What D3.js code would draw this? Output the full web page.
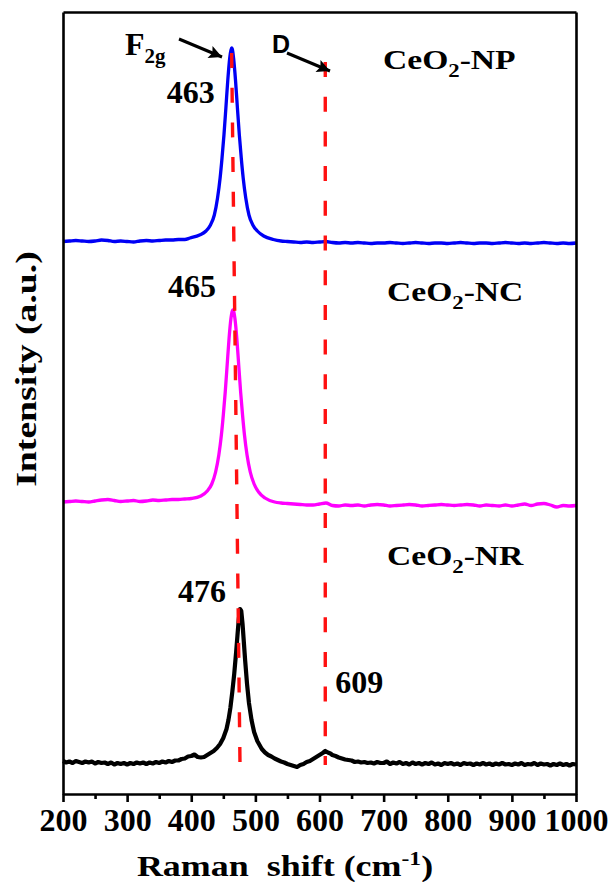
<!DOCTYPE html>
<html>
<head>
<meta charset="utf-8">
<script src="https://cdn.jsdelivr.net/npm/d3@7"></script>
<style>
  html, body { margin: 0; padding: 0; background: #fff; }
  svg { display: block; }
  text { font-family: "Liberation Serif", "Times New Roman", serif; font-weight: bold; fill: #000; }
</style>
</head>
<body>
<svg id="chart" width="612" height="882"></svg>
<script>
// Raman spectra of three CeO2 morphologies, drawn offset in one panel.
// Each entry: [Raman shift (cm-1), intensity (a.u., offset included)].
const spectrumNP = [
  [200,552.5],[210,553],[220,553.5],[230,553],[240,552.5],[250,553],[260,554],[270,553.5],
  [280,552.5],[290,553],[300,552.5],[310,552],[320,553],[330,553.5],[340,553],[350,553.5],
  [360,554],[370,554],[380,554.5],[390,554.5],[398,556],[413,559],[423,563],[430,569],
  [436,579],[441,596],[445,616],[448,636],[451,659],[454,686],[457,714],[460,736],[462,744],
  [463,746],[464,745],[466,736],[469,714],[472,686],[475,659],[478,636],[481,616],[485,596],
  [490,579],[496,569],[503,563],[513,558],[528,554.5],[540,553],[550,552.5],[560,552],
  [570,551.5],[580,552],[590,551.5],[600,552],[610,552.5],[620,551.5],[630,551],[640,551.5],
  [650,551],[660,551.5],[670,551],[680,550.5],[690,551],[700,551],[710,551.5],[720,551],
  [730,550.5],[740,551],[750,551.5],[760,551],[770,550.5],[780,551],[790,551],[800,550.5],
  [810,551],[820,551.5],[830,551],[840,550.5],[850,551],[860,551],[870,550.5],[880,551],
  [890,551.5],[900,551],[910,550.5],[920,551],[930,550.5],[940,551],[950,551.5],[960,551],
  [970,550.5],[980,551],[990,550.5],[1000,551]
];

const spectrumNC = [
  [200,292],[210,292.5],[220,293],[230,292.5],[240,292],[250,293],[260,294],[270,294.5],
  [280,293.5],[290,292.5],[300,293],[310,293.5],[320,292.5],[330,293],[340,294],[350,293.5],
  [360,294],[370,294.5],[380,294.5],[390,295],[400,295.5],[415,298],[425,303],[432,310],
  [438,322],[443,339],[447,359],[450,379],[453,402],[456,429],[459,456],[462,476],[464,483],
  [465,484],[466,483],[468,476],[471,456],[474,429],[477,402],[480,379],[483,359],[487,339],
  [492,322],[498,310],[505,302],[515,296],[530,292],[540,291],[550,290.5],[560,290],
  [570,289.5],[580,289],[590,289],[600,290],[610,291],[620,288.5],[630,288],[640,289],
  [650,288.5],[660,289],[670,288],[680,289],[690,289.5],[700,289],[710,288],[720,288.5],
  [730,289],[740,289.5],[750,289],[760,288],[770,288.5],[780,289],[790,289.5],[800,289],
  [810,288.5],[820,289],[830,289.5],[840,289],[850,288],[860,289],[870,288.5],[880,288],
  [890,289],[900,288],[910,289],[920,290],[930,288.5],[940,290],[950,290.5],[960,289],
  [970,287],[980,288.5],[990,288],[1000,288.5]
];

const spectrumNR = [
  [200,33],[205,31.5],[210,32.5],[215,31],[220,33],[225,32],[230,31],[235,32.5],[240,31.5],
  [245,32.5],[250,30.5],[255,32],[260,31],[265,31.5],[270,30],[275,31.5],[280,29.5],[285,31],
  [290,30],[295,31],[300,29.5],[305,31],[310,30],[315,31.5],[320,30.5],[325,31.5],[330,30],
  [335,31.5],[340,30.5],[345,32],[350,31],[355,32.5],[360,31.5],[365,33],[370,32],[375,33.5],
  [380,33.5],[385,35],[390,35.5],[395,37.5],[400,38],[405,39.5],[410,37],[415,36.5],[420,37],
  [425,39],[430,41],[435,43],[440,46],[445,50],[450,56],[455,65],[458,74],[461,86],[464,102],
  [467,120],[470,142],[472,158],[474,174],[476,185],[478,183],[480,170],[482,152],[484,134],
  [487,110],[490,91],[494,74],[498,62],[503,53],[510,45],[515,41.5],[520,39],[525,37.5],
  [530,35.5],[535,34],[540,32.5],[545,31.5],[550,30],[555,29],[560,28],[565,27],[570,29],
  [575,30],[580,32],[585,33],[590,35],[595,37],[600,39],[605,41],[609,43],[613,41.5],
  [617,40.5],[620,39],[625,38],[630,36.5],[635,35.5],[640,34.5],[645,34],[650,33.5],[655,32],
  [660,32.5],[665,31.5],[670,32],[675,31],[680,31.5],[685,30.5],[690,32],[695,31],[700,31],
  [705,32.5],[710,30],[715,31.5],[720,30.5],[725,32],[730,30],[735,31],[740,29.5],[745,31.5],
  [750,30],[755,31],[760,29.5],[765,31],[770,30],[775,31.5],[780,29.5],[785,30.5],[790,29],
  [795,31],[800,30],[805,31],[810,29.5],[815,30.5],[820,29],[825,31],[830,30],[835,30.5],
  [840,29],[845,30.5],[850,29.5],[855,31],[860,29.5],[865,30.5],[870,29],[875,30.5],[880,29.5],
  [885,31],[890,29.5],[895,30],[900,29],[905,30.5],[910,29.5],[915,31],[920,29],[925,30],
  [930,29.5],[935,31],[940,29],[945,30.5],[950,29.5],[955,30],[960,28.5],[965,30],[970,29],
  [975,30.5],[980,29],[985,30],[990,28.5],[995,30],[1000,29.5]
];

// Axis ticks
const majorTicks = [200, 300, 400, 500, 600, 700, 800, 900, 1000];
const minorTicks = [250, 350, 450, 550, 650, 750, 850, 950];

// Peak guides: F2g shifts from 463 (NP) to 476 (NR); D band at 609
const f2gGuide = [[463, 741], [476, 31]];
const dGuide = [[609, 732], [609, 29]];

// Annotation values
const peakLabels = [
  { text: "463", shift: 463, value: 746 },
  { text: "465", shift: 465, value: 484 },
  { text: "476", shift: 476, value: 185 },
  { text: "609", shift: 609, value: 43 }
];

const svg = d3.select("#chart");
const margin = { left: 63, right: 36, top: 12, bottom: 88 };
const W = 612, H = 882;

const x = d3.scaleLinear().domain([200, 1000]).range([margin.left, W - margin.right]);
const y = d3.scaleLinear().domain([0, 782]).range([H - margin.bottom, margin.top]);

const smoothLine = d3.line().x(d => x(d[0])).y(d => y(d[1])).curve(d3.curveMonotoneX);
const rawLine = d3.line().x(d => x(d[0])).y(d => y(d[1]));

// Spectra (the noisier NR trace is joined point to point)
const series = [
  { data: spectrumNP, color: "#0000f5", width: 3.3, gen: smoothLine },
  { data: spectrumNC, color: "#ff00ff", width: 3.3, gen: smoothLine },
  { data: spectrumNR, color: "#000000", width: 4.2, gen: rawLine }
];
svg.append("g").selectAll("path").data(series).join("path")
  .attr("d", d => d.gen(d.data))
  .attr("fill", "none")
  .attr("stroke", d => d.color)
  .attr("stroke-width", d => d.width)
  .attr("stroke-linejoin", "round");

// Dashed guides
svg.append("g").selectAll("path").data([f2gGuide, dGuide]).join("path")
  .attr("d", d => rawLine(d))
  .attr("fill", "none")
  .attr("stroke", "#ff1010")
  .attr("stroke-width", 3.4)
  .attr("stroke-dasharray", "15,19.7");

// Frame and axes
const axB = svg.append("g").attr("transform", `translate(0,${y(0)})`)
  .call(d3.axisBottom(x).tickValues(majorTicks).tickFormat(d3.format("d"))
    .tickSize(8).tickSizeOuter(0).tickPadding(6));
svg.append("g").attr("transform", `translate(0,${y(0)})`)
  .call(d3.axisBottom(x).tickValues(minorTicks).tickSize(5).tickFormat("").tickSizeOuter(0))
  .select(".domain").remove();
svg.append("g").attr("transform", `translate(0,${y(782)})`)
  .call(d3.axisTop(x).tickValues([]).tickSizeOuter(0));
svg.append("g").attr("transform", `translate(${x(200)},0)`)
  .call(d3.axisLeft(y).tickValues([]).tickSizeOuter(0));
svg.append("g").attr("transform", `translate(${x(1000)},0)`)
  .call(d3.axisRight(y).tickValues([]).tickSizeOuter(0));

svg.selectAll(".domain").attr("stroke", "#000").attr("stroke-width", 2.6);
svg.selectAll(".tick line").attr("stroke", "#000").attr("stroke-width", 2.6);
axB.selectAll(".tick text")
  .style("font-family", "'Liberation Serif', serif")
  .style("font-weight", "bold")
  .style("font-size", "32px")
  .attr("fill", "#000")
  .attr("dy", "0.71em");

// Axis titles (set wide, as in the figure's typeface)
const xt = svg.append("text")
  .attr("transform", "translate(285,876) scale(1.24,1)")
  .attr("text-anchor", "middle")
  .style("font-size", "29px");
xt.append("tspan").text("Raman\u00a0\u00a0shift (cm");
xt.append("tspan").text("-1").attr("dy", -11).style("font-size", "19px");
xt.append("tspan").text(")").attr("dy", 11);

svg.append("text")
  .attr("transform", "translate(36,369) rotate(-90) scale(1.3,1)")
  .attr("text-anchor", "middle")
  .style("font-size", "29px")
  .text("Intensity (a.u.)");

// Sample names
function sampleLabel(px, py, suffix) {
  const t = svg.append("text")
    .attr("transform", `translate(${px},${py}) scale(1.2,1)`)
    .style("font-size", "28px");
  t.append("tspan").text("CeO");
  t.append("tspan").text("2").attr("dy", 8).style("font-size", "19px");
  t.append("tspan").text("-" + suffix).attr("dy", -8);
}
sampleLabel(383, 69, "NP");
sampleLabel(387, 301, "NC");
sampleLabel(387, 565, "NR");

// Peak position labels
const labelOffsets = { "463": [-65, 55], "465": [-65, -13], "476": [-62, -7], "609": [10, -58] };
svg.append("g").selectAll("text").data(peakLabels).join("text")
  .attr("x", d => x(d.shift) + labelOffsets[d.text][0])
  .attr("y", d => y(d.value) + labelOffsets[d.text][1])
  .style("font-size", "32px")
  .text(d => d.text);

// Mode labels with arrows
const f2 = svg.append("text").attr("x", 125).attr("y", 55).style("font-size", "32px");
f2.append("tspan").text("F");
f2.append("tspan").text("2g").attr("dy", 8).style("font-size", "21px");

svg.append("text").attr("x", 272).attr("y", 53)
  .style("font-family", "'Liberation Sans', Arial, sans-serif")
  .style("font-size", "25px")
  .text("D");

svg.append("defs").append("marker")
  .attr("id", "head").attr("viewBox", "0 0 10 10")
  .attr("refX", 10).attr("refY", 5)
  .attr("markerWidth", 16).attr("markerHeight", 13)
  .attr("markerUnits", "userSpaceOnUse")
  .attr("orient", "auto")
  .append("path").attr("d", "M0,0 L10,5 L0,10 L2,5 z").attr("fill", "#000");

const arrows = [[[179, 39], [222, 57]], [[287, 53], [330, 71]]];
svg.append("g").selectAll("line").data(arrows).join("line")
  .attr("x1", d => d[0][0]).attr("y1", d => d[0][1])
  .attr("x2", d => d[1][0]).attr("y2", d => d[1][1])
  .attr("stroke", "#000").attr("stroke-width", 3)
  .attr("marker-end", "url(#head)");
</script>
</body>
</html>
